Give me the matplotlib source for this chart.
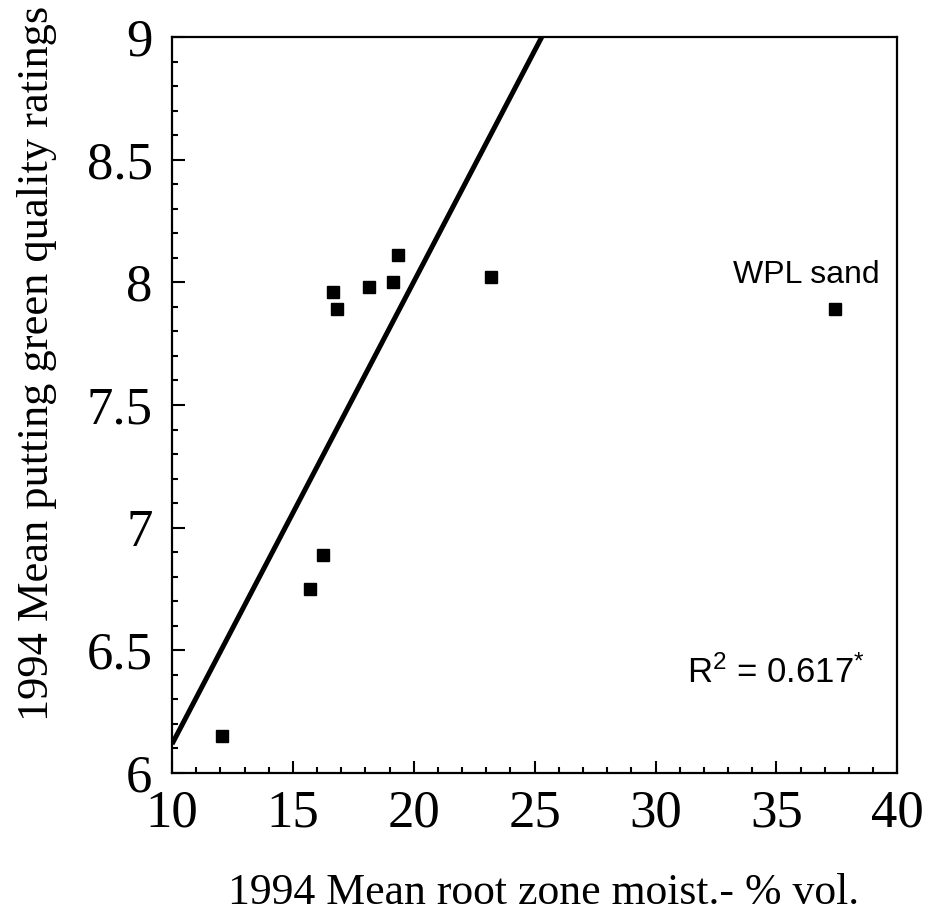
import numpy as np
import matplotlib
matplotlib.use("Agg")
import matplotlib.pyplot as plt
from matplotlib.ticker import MultipleLocator

# root zone moisture (% vol.) and putting green quality ratings, 1994
moisture = [12.06, 15.71, 16.24, 16.67, 16.84, 18.14, 19.13, 19.34, 23.2, 37.43]
quality = [6.15, 6.75, 6.89, 7.96, 7.89, 7.98, 8.00, 8.11, 8.02, 7.89]
outlier_name = "WPL sand"
r2_text = "0.617"

x_ticks = [10, 15, 20, 25, 30, 35, 40]
y_ticks = [6, 6.5, 7, 7.5, 8, 8.5, 9]
y_tick_labels = ["6", "6.5", "7", "7.5", "8", "8.5", "9"]

x = np.array(moisture)
y = np.array(quality)

# regression is fitted without the WPL sand point
fit_x = x[:-1]
fit_y = y[:-1]
slope, intercept = np.polyfit(fit_x, fit_y, 1)

serif = ["Liberation Serif", "DejaVu Serif"]
sans = ["Liberation Sans", "DejaVu Sans"]
plt.rcParams["mathtext.fontset"] = "custom"
plt.rcParams["mathtext.rm"] = "Liberation Sans"
plt.rcParams["mathtext.it"] = "Liberation Sans:italic"

fig = plt.figure(figsize=(9.25, 9.21), dpi=100)
ax = fig.add_axes([0.186, 0.1607, 0.784, 0.7991])

xx = np.array([10, 40])
ax.plot(xx, intercept + slope * xx, color="black", lw=3.6, solid_capstyle="butt")
ax.plot(x, y, "s", color="black", ms=8.5, mec="black")

ax.set_xlim(10, 40)
ax.set_ylim(6, 9)
ax.set_xticks(x_ticks)
ax.set_xticklabels([str(t) for t in x_ticks], fontfamily=serif)
ax.set_yticks(y_ticks)
ax.set_yticklabels(y_tick_labels, fontfamily=serif)
ax.xaxis.set_minor_locator(MultipleLocator(1))
ax.yaxis.set_minor_locator(MultipleLocator(0.1))
ax.tick_params(which="both", direction="in", top=False, right=False, width=1.5, color="black")
ax.tick_params(which="major", length=9, labelsize=38)
ax.tick_params(which="minor", length=4.5)
ax.tick_params(axis="x", which="major", pad=12)
ax.tick_params(axis="y", which="major", pad=14)
for s in ax.spines.values():
    s.set_linewidth(1.6)

ax.set_xlabel("1994 Mean root zone moist.- % vol.", fontfamily=serif, fontsize=31.5, va="center")
ax.xaxis.set_label_coords(0.512, -0.163)
ax.set_ylabel("1994 Mean putting green quality ratings", fontfamily=serif, fontsize=32, va="center")
ax.yaxis.set_label_coords(-0.186, 0.556)

ax.annotate(outlier_name, (x[-1], y[-1]), xytext=(-21, 24.5), textcoords="offset points",
            ha="center", va="center", fontfamily=sans, fontsize=23)
ax.text(0.956, 0.136, "R$^{2}$ = " + r2_text + "$^{*}$", transform=ax.transAxes,
        ha="right", va="center", fontfamily=sans, fontsize=25)

fig.savefig("out.png", dpi=100)
